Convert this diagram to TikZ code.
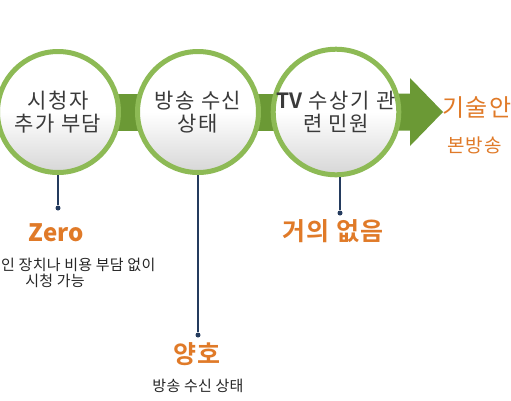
\documentclass[tikz,border=0pt]{standalone}
\usepackage{fontspec}
\setmainfont{Noto Sans CJK KR}
\newfontfamily\krsp[LetterSpace=7]{Noto Sans CJK KR}
\newfontfamily\krsm[LetterSpace=2]{Noto Sans CJK KR}
\newfontfamily\krspb[LetterSpace=4]{Noto Sans CJK KR Bold}
\usetikzlibrary{backgrounds}
\definecolor{ringgreen}{HTML}{8DBA55}
\definecolor{bandgreen}{HTML}{6B9935}
\definecolor{orangetxt}{HTML}{E07A28}
\definecolor{navyline}{HTML}{243B5E}
\definecolor{circtxt}{HTML}{3A3A3A}
\tikzset{
  stage/.style={circle, draw=ringgreen, line width=5pt, minimum size=121pt, inner sep=0pt,
    top color=white, bottom color=black!16, middle color=white, align=center,
    text=circtxt, font=\krsp\fontsize{21}{23}\selectfont},
  lead/.style={draw=navyline, line width=1.2pt},
  dot/.style={circle, fill=navyline, inner sep=0pt, minimum size=5pt},
  bigres/.style={text=orangetxt, font=\krspb\fontsize{25}{27}\selectfont, inner sep=0pt},
  smallres/.style={text=black!85, font=\krsm\fontsize{15}{17}\selectfont, inner sep=0pt},
  righttxt/.style={text=orangetxt, inner sep=0pt, anchor=west},
}
\begin{document}
\begin{tikzpicture}[x=1pt,y=-1pt]
\clip (0,0) rectangle (511,400);
% stages
\node[stage] (c1) at (58,112) {시청자\\추가 부담};
\node[stage] (c2) at (198,112) {방송 수신\\상태};
\node[stage] (c3) at (336,112) {{\fontspec{Noto Sans CJK KR Bold}TV} 수상기 관\\련 민원};
\begin{pgfonlayer}{background}
  \fill[white] (0,0) rectangle (511,400);
  \fill[bandgreen] (c1.center) ++(0,-18.5) rectangle ([yshift=-18.5pt]c2.center);
  \fill[bandgreen] (c2.center) ++(0,-18.5) rectangle ([yshift=-18.5pt]c3.center);
  \fill[bandgreen] (c3.center) ++(0,-18.5) -- (410,93.5) -- (410,78) -- (443,112)
     -- (410,146) -- (410,130.5) -- (336,130.5) -- cycle;
\end{pgfonlayer}
% leaders
\node[dot] (d1) at (58,208) {};
\node[dot] (d2) at (198,335) {};
\node[dot] (d3) at (340,213) {};
\draw[lead] (c1.south) -- (d1);
\draw[lead] (c2.south) -- (d2);
\draw[lead] (d3 |- c3.south) -- (d3);
% results
\node[bigres, font=\bfseries\fontsize{24}{26}\selectfont] (r1) at (56,233) {Zero};
\node[smallres, anchor=west] (s1a) at (1,265) {인 장치나 비용 부담 없이};
\node[smallres] (s1b) at (55,281) {시청 가능};
\node[bigres] (r2) at (197,354) {양호};
\node[smallres] (s2) at (198,386) {방송 수신 상태};
\node[bigres] (r3) at (333,231) {거의 없음};
\node[righttxt, font=\krsp\fontsize{24}{26}\selectfont] (t1) at (442,108) {기술안};
\node[righttxt, font=\krsp\fontsize{19}{21}\selectfont] (t2) at (447,145) {본방송};
\end{tikzpicture}
\end{document}
